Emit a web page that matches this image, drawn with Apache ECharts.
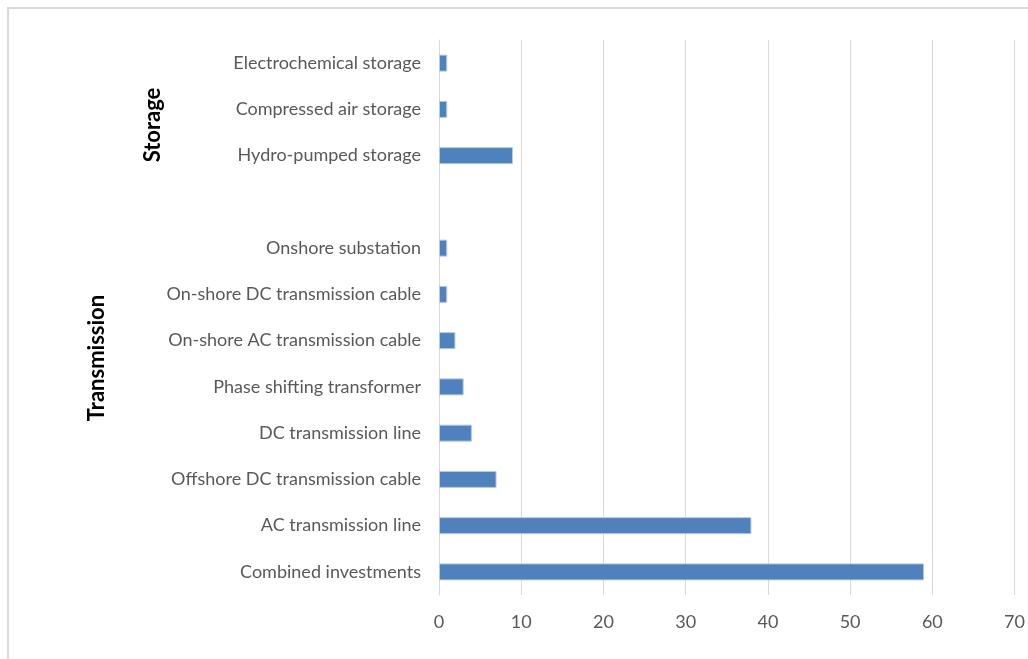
<!DOCTYPE html>
<html>
<head>
<meta charset="utf-8">
<title>Transmission and storage investments</title>
<script src="https://cdn.jsdelivr.net/npm/echarts@6/dist/echarts.min.js"></script>
<style>
  html, body { margin: 0; padding: 0; background: #ffffff; }
  #chart { width: 1028px; height: 659px; }
</style>
</head>
<body>
<div id="chart"></div>
<script>
// Categories from top to bottom; the empty entry separates the two groups.
const categories = [
  'Electrochemical storage',
  'Compressed air storage',
  'Hydro-pumped storage',
  '',
  'Onshore substation',
  'On-shore DC transmission cable',
  'On-shore AC transmission cable',
  'Phase shifting transformer',
  'DC transmission line',
  'Offshore DC transmission cable',
  'AC transmission line',
  'Combined investments'
];
const values = [1, 1, 9, null, 1, 1, 2, 3, 4, 7, 38, 59];
const xTicks = { min: 0, max: 70, interval: 10 };
const groupLabels = ['Storage', 'Transmission'];

const FONT = 'Lato, "Open Sans", sans-serif';
const chart = echarts.init(document.getElementById('chart'), null, { renderer: 'canvas' });

chart.setOption({
  animation: false,
  backgroundColor: '#ffffff',
  grid: { left: 439, right: 11, top: 40, bottom: 64, containLabel: false },
  xAxis: {
    type: 'value',
    min: xTicks.min,
    max: xTicks.max,
    interval: xTicks.interval,
    axisLine: { show: false },
    axisTick: { show: false },
    axisLabel: { color: '#595959', fontSize: 18, fontFamily: FONT, margin: 18 },
    splitLine: { show: true, lineStyle: { color: '#d9d9d9', width: 1 } }
  },
  yAxis: {
    type: 'category',
    data: categories,
    inverse: true,
    axisLine: { show: true, lineStyle: { color: '#d9d9d9', width: 1 } },
    axisTick: { show: false },
    axisLabel: { color: '#595959', fontSize: 18, fontFamily: FONT, margin: 18 }
  },
  series: [{
    type: 'bar',
    data: values,
    barWidth: 17,
    itemStyle: { color: '#4f81bd', borderColor: '#b4c9e4', borderWidth: 1 }
  }],
  graphic: [
    {
      type: 'rect',
      shape: { x: 8, y: 8, width: 1040, height: 700 },
      style: { fill: 'none', stroke: '#d9d9d9', lineWidth: 2 },
      silent: true
    },
    {
      type: 'text',
      x: 153, y: 125,
      rotation: Math.PI / 2,
      style: {
        text: groupLabels[0], fill: '#000000', fontSize: 22, fontWeight: 'bold',
        fontFamily: FONT, align: 'center', verticalAlign: 'middle'
      }
    },
    {
      type: 'text',
      x: 97, y: 358,
      rotation: Math.PI / 2,
      style: {
        text: groupLabels[1], fill: '#000000', fontSize: 22, fontWeight: 'bold',
        fontFamily: FONT, align: 'center', verticalAlign: 'middle'
      }
    }
  ]
});
</script>
</body>
</html>
